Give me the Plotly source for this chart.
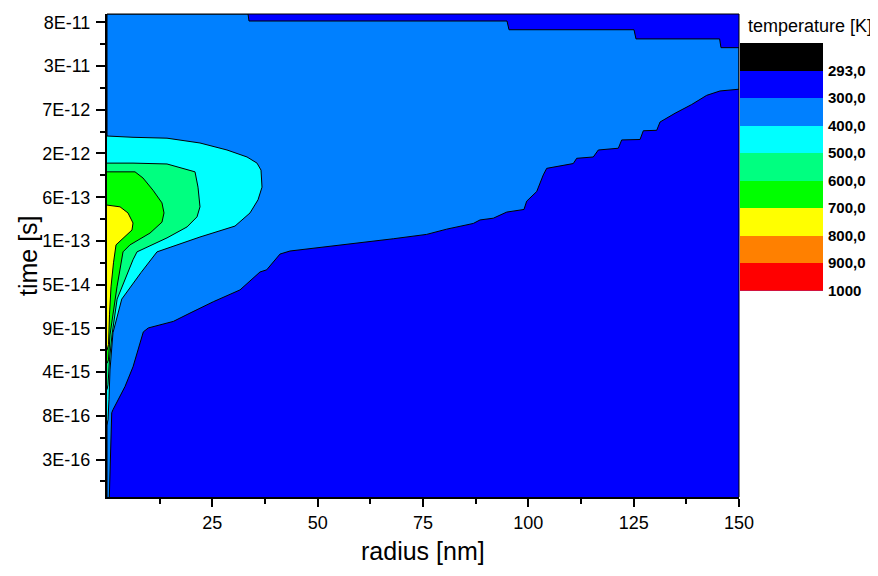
import plotly.graph_objects as go

# ---------------- data ----------------
# time axis: evenly spaced time-step labels (index axis)
time_tick_index = [0, 1, 2, 3, 4, 5, 6, 7, 8, 9, 10]
time_tick_labels = ["3E-16", "8E-16", "4E-15", "9E-15", "5E-14", "1E-13",
                    "6E-13", "2E-12", "7E-12", "3E-11", "8E-11"]
radius_ticks = [25, 50, 75, 100, 125, 150]
radius_minor = [12.5, 37.5, 62.5, 87.5, 112.5, 137.5]
time_minor = [-0.5, 0.5, 1.5, 2.5, 3.5, 4.5, 5.5, 6.5, 7.5, 8.5, 9.5]

# temperature levels of the colour scale (colour i is the band below level i)
levels = [293, 300, 400, 500, 600, 700, 800, 900, 1000]
level_labels = ["293,0", "300,0", "400,0", "500,0", "600,0",
                "700,0", "800,0", "900,0", "1000"]
level_colors = ["#000000", "#0000FF", "#0080FF", "#00FFFF", "#00FF80",
                "#00FF00", "#FFFF00", "#FF8000", "#FF0000"]

# isotherm outlines (radius in nm, time index) of regions T >= level
iso300_r = [0.55, 1.12, 1.42, 4.27, 6.17, 8.62, 9.80, 15.74, 19.70, 25.23,
            31.57, 36.31, 37.90, 39.47, 41.06, 43.43, 52.15, 60.05, 67.95,
            75.88, 80.63, 86.94, 88.53, 91.69, 94.87, 98.97, 99.61, 101.99,
            103.55, 104.36, 106.73, 110.67, 111.48, 115.42, 116.61, 121.36,
            122.16, 126.51, 127.29, 130.47, 131.26, 134.82, 138.77, 142.33,
            145.49, 150.0, 150.0, 145.72, 145.40, 125.55, 125.08, 95.41,
            94.94, 33.70, 33.47, 0.0, 0.0]
iso300_t = [-0.86, 1.07, 1.14, 1.67, 2.12, 2.92, 3.01, 3.16, 3.35, 3.61,
            3.88, 4.29, 4.34, 4.53, 4.70, 4.77, 4.87, 4.95, 5.05,
            5.15, 5.27, 5.40, 5.48, 5.52, 5.66, 5.72, 5.91, 6.13,
            6.51, 6.66, 6.70, 6.77, 6.89, 6.92, 7.08, 7.12,
            7.31, 7.32, 7.52, 7.53, 7.72, 7.92, 8.12, 8.33,
            8.43, 8.47, 9.42, 9.42, 9.62, 9.62, 9.83, 9.83,
            10.03, 10.03, 10.19, 10.19, -0.86]

iso400_r = [0.0, 6.17, 14.24, 22.07, 28.48, 33.23, 35.60, 36.55, 36.79, 35.84,
            33.94, 30.38, 22.07, 11.87, 8.1, 3.5, 1.42, 0.71, 0.47, 0.24, 0.0]
iso400_t = [7.40, 7.37, 7.35, 7.24, 7.08, 6.92, 6.78, 6.62, 6.23, 5.94,
            5.64, 5.34, 5.09, 4.75, 4.28, 3.67, 2.90, 2.05, 1.37, 0.91, 0.80]

iso500_r = [0.0, 6.17, 14.24, 20.89, 21.60, 22.07, 21.36, 18.99, 14.24, 7.12,
            6.17, 2.4, 1.19, 0.59, 0.24, 0.0]
iso500_t = [6.78, 6.78, 6.76, 6.58, 6.23, 5.78, 5.55, 5.32, 5.07, 4.75,
            4.57, 3.67, 2.85, 2.28, 1.71, 1.60]

iso600_r = [0.0, 6.65, 8.54, 10.92, 13.05, 13.53, 13.05, 10.21, 5.46, 3.80,
            2.37, 1.19, 0.71, 0.36, 0.0]
iso600_t = [6.58, 6.58, 6.44, 6.16, 5.87, 5.64, 5.43, 5.18, 4.91, 4.75,
            3.95, 3.24, 2.85, 2.28, 2.20]

iso700_r = [0.0, 3.09, 4.98, 6.17, 5.93, 3.80, 2.14, 1.54, 0.95, 0.59, 0.36, 0.0]
iso700_t = [5.82, 5.78, 5.64, 5.41, 5.25, 5.07, 4.91, 4.50, 3.95, 3.31, 2.63, 2.50]

isotherms = [
    (300, iso300_r, iso300_t),
    (400, iso400_r, iso400_t),
    (500, iso500_r, iso500_t),
    (600, iso600_r, iso600_t),
    (700, iso700_r, iso700_t),
]

# ---------------- figure ----------------
FONT = "Arial, Liberation Sans, sans-serif"
OFF = 8                               # page body margin of the html page
W, H = 878 - OFF, 576 - OFF
L, R, T, B = 107 - OFF, 55, 14 - OFF, 79   # paper spans plot + colour bar
paper_w = W - L - R
paper_h = H - T - B
main_right = 632 / paper_w            # end of main plot area in paper


def px_x(px):
    """screen x (reference pixels) -> paper x"""
    return (px - OFF - L) / paper_w


def px_y(py):
    """screen y (reference pixels) -> paper y"""
    return (H - B - (py - OFF)) / paper_h


fig = go.Figure()

for lev, rr, tt in isotherms:
    fig.add_trace(go.Scatter(
        x=rr, y=tt, mode="lines", fill="toself",
        fillcolor=level_colors[levels.index(lev) + 1],
        line=dict(color="black", width=1),
        hoverinfo="skip", showlegend=False,
        xaxis="x", yaxis="y",
    ))

# colour scale as a heatmap on its own axes
n = len(levels)
fig.add_trace(go.Heatmap(
    z=[[i] for i in range(n)], x=[0], y=list(range(n)),
    colorscale=[[i / (n - 1), c] for i, c in enumerate(level_colors)],
    zmin=0, zmax=n - 1, showscale=False, hoverinfo="skip",
    xaxis="x2", yaxis="y2",
))

fig.update_layout(
    width=W, height=H,
    margin=dict(l=L, r=R, t=T, b=B, pad=0, autoexpand=False),
    paper_bgcolor="white",
    plot_bgcolor=level_colors[1],
    font=dict(family=FONT, color="black"),
    showlegend=False,
    xaxis=dict(
        domain=[0, main_right], range=[0, 150],
        tickvals=radius_ticks, ticktext=[str(v) for v in radius_ticks],
        ticks="outside", ticklen=8, tickwidth=1.5, tickcolor="black",
        tickfont=dict(size=18, family=FONT),
        minor=dict(tickvals=radius_minor, ticks="outside", ticklen=5,
                   tickwidth=1.5, tickcolor="black"),
        showline=True, linewidth=2, linecolor="black",
        showgrid=False, zeroline=False, anchor="y",
    ),
    yaxis=dict(
        domain=[0, 1], range=[-0.856, 10.19],
        tickvals=time_tick_index, ticktext=time_tick_labels,
        ticks="outside", ticklen=9, tickwidth=1.5, tickcolor="black",
        tickfont=dict(size=18, family=FONT), ticklabelstandoff=2,
        minor=dict(tickvals=time_minor, ticks="outside", ticklen=5,
                   tickwidth=1.5, tickcolor="black"),
        showline=True, linewidth=2, linecolor="black",
        showgrid=False, zeroline=False, anchor="x",
    ),
    xaxis2=dict(
        domain=[px_x(740), 1.0], range=[-0.5, 0.5],
        visible=False, anchor="y2", fixedrange=True,
    ),
    yaxis2=dict(
        domain=[px_y(290.7), px_y(43)],
        range=[n - 0.5, -0.5], anchor="x2", side="right",
        tickvals=[i + 0.5 for i in range(n)],
        ticktext=["<b>%s</b>" % s for s in level_labels],
        ticks="", showgrid=False, zeroline=False, showline=False,
        tickfont=dict(size=15, family=FONT), ticklabelstandoff=4,
    ),
    shapes=[
        dict(type="line", xref="paper", yref="paper", x0=0, x1=main_right,
             y0=1, y1=1, line=dict(color="black", width=1)),
        dict(type="line", xref="paper", yref="paper", x0=main_right,
             x1=main_right, y0=0, y1=1, line=dict(color="black", width=1)),
    ],
    annotations=[
        dict(text="radius [nm]", xref="paper", yref="paper",
             x=px_x(423), y=px_y(551),
             xanchor="center", yanchor="middle", showarrow=False,
             font=dict(size=25, family=FONT)),
        dict(text="time [s]", xref="paper", yref="paper",
             x=px_x(28), y=px_y(256),
             xanchor="center", yanchor="middle", showarrow=False,
             textangle=-90, font=dict(size=25, family=FONT)),
        dict(text="temperature [K]", xref="paper", yref="paper",
             x=px_x(810), y=px_y(26),
             xanchor="center", yanchor="middle", showarrow=False,
             font=dict(size=18, family=FONT)),
    ],
)

fig.write_html("out.html")
